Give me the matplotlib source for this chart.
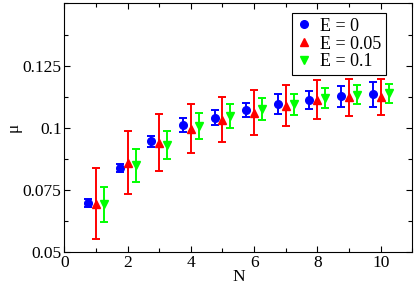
import numpy as np
import matplotlib
matplotlib.use('Agg')
import matplotlib.pyplot as plt
from matplotlib.lines import Line2D
from matplotlib.ticker import MultipleLocator

plt.rcParams['font.family'] = ['Liberation Serif', 'DejaVu Serif']
plt.rcParams['mathtext.fontset'] = 'stix'

#%% data
N = np.arange(1, 11)
mu_E0 = [0.0696, 0.0839, 0.0945, 0.1010, 0.1040, 0.1072, 0.1096, 0.1112, 0.1127, 0.1134]
err_E0 = [0.0017, 0.0017, 0.0021, 0.0029, 0.0030, 0.0029, 0.0040, 0.0035, 0.0042, 0.0051]
mu_E005 = [0.0695, 0.0859, 0.0939, 0.0996, 0.1033, 0.1061, 0.1089, 0.1112, 0.1122, 0.1123]
err_E005 = [0.0141, 0.0127, 0.0115, 0.0098, 0.0092, 0.0089, 0.0081, 0.0078, 0.0075, 0.0072]
mu_E01 = [0.0692, 0.0849, 0.0931, 0.1008, 0.1046, 0.1074, 0.1094, 0.1119, 0.1132, 0.1138]
err_E01 = [0.0070, 0.0066, 0.0056, 0.0053, 0.0048, 0.0044, 0.0042, 0.0039, 0.0038, 0.0037]
labels = ['E = 0', 'E = 0.05', 'E = 0.1']

#%%
dx = 0.25
fig = plt.figure(figsize=(4.15, 2.87), dpi=100)
ax = fig.add_axes([0.155, 0.122, 0.8385, 0.866])

series = [(N - dx, mu_E0, err_E0, 'o', '#0000ff', 5.5, 3.0),
          (N, mu_E005, err_E005, '^', '#ff0000', 6.0, 2.6),
          (N + dx, mu_E01, err_E01, 'v', '#00ff00', 6.0, 2.6)]
handles = []
for (x, y, e, m, c, ms, cs), lab in zip(series, labels):
    ax.errorbar(x, y, yerr=e, fmt=m, color=c, ms=ms, elinewidth=1.4,
                capsize=cs, capthick=1.4, mec=c)
    handles.append(Line2D([], [], ls='none', marker=m, color=c, ms=ms, label=lab))

ax.set_xlim(0, 11)
ax.set_ylim(0.05, 0.15)
ax.set_xticks([0, 2, 4, 6, 8, 10])
ax.set_yticks([0.05, 0.075, 0.1, 0.125])
ax.set_yticklabels(['0.05', '0.075', '0.1', '0.125'])
ax.xaxis.set_minor_locator(MultipleLocator(1))
ax.yaxis.set_minor_locator(MultipleLocator(0.0125))
ax.tick_params(which='both', direction='in', top=True, right=True, labelsize=12.5, width=0.8)
ax.tick_params(which='major', length=4.5, pad=2)
ax.tick_params(which='minor', length=3)
for s in ax.spines.values():
    s.set_linewidth(0.8)

ax.set_xlabel('N', fontsize=12.5, labelpad=-1)
ax.set_ylabel('μ', fontsize=12.5, labelpad=1)

leg = ax.legend(handles=handles, loc='upper right', bbox_to_anchor=(0.924, 0.961),
                borderaxespad=0, fancybox=False, fontsize=13, handlelength=0.8,
                handletextpad=0.5, labelspacing=0.05, borderpad=0.25, framealpha=1)
leg.get_frame().set_edgecolor('black')
leg.get_frame().set_linewidth(0.8)

fig.savefig('out.png', dpi=100)
